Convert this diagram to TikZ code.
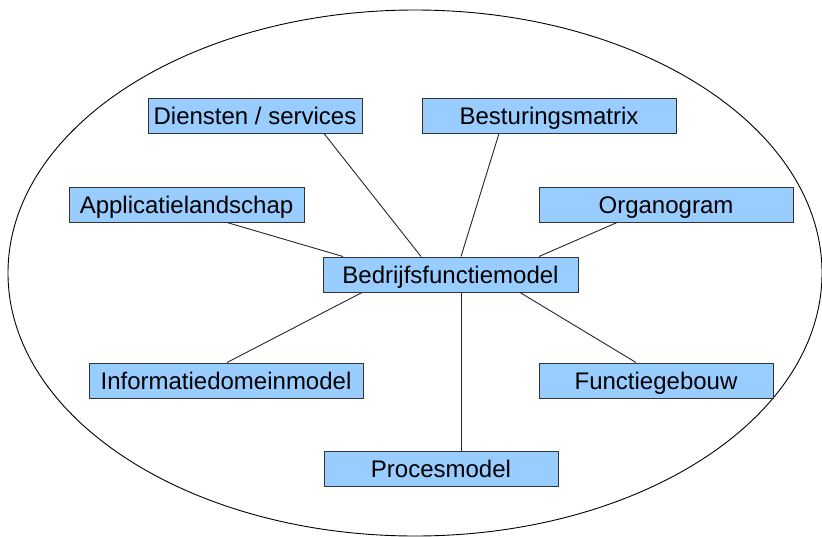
\documentclass[tikz,border=0pt]{standalone}
\usepackage{fontspec}
\setmainfont{Liberation Sans}
\definecolor{boxfill}{HTML}{99CCFF}
\definecolor{boxline}{HTML}{333333}
\begin{document}
\begin{tikzpicture}[x=1pt,y=-1pt,
  model/.style={draw=boxline, line width=1pt, fill=boxfill, inner sep=0pt,
    minimum height=35pt, text height=17.2pt, text depth=0pt,
    font=\fontsize{24}{28}\selectfont, text=black},
  link/.style={draw=black!85, line width=0.9pt}]
  \useasboundingbox (0,0) rectangle (822,536);

  % enclosing ellipse
  \draw[line width=0.9pt] (415,273) ellipse [x radius=407, y radius=263];

  % models
  \node[model, minimum width=255pt] (bfm)  at (450.5,274.5) {Bedrijfsfunctiemodel};
  \node[model, minimum width=214pt] (dien) at (255,115.5)   {Diensten / services};
  \node[model, minimum width=254pt] (best) at (549,115.5)   {Besturingsmatrix};
  \node[model, minimum width=235pt] (appl) at (186.5,204.5) {Applicatielandschap};
  \node[model, minimum width=254pt] (orga) at (666,204.5)   {Organogram};
  \node[model, minimum width=274pt] (info) at (226,380.5)   {Informatiedomeinmodel};
  \node[model, minimum width=234pt] (func) at (656,380.5)   {Functiegebouw};
  \node[model, minimum width=234pt] (proc) at (441,468.5)   {Procesmodel};

  % connections to the central model
  \draw[link] ([xshift=69pt]dien.south)    -- ([xshift=-29.5pt]bfm.north);
  \draw[link] ([xshift=-50pt]best.south)   -- ([xshift=10.5pt]bfm.north);
  \draw[link] ([xshift=40.5pt]appl.south)  -- ([xshift=-107.5pt]bfm.north);
  \draw[link] ([xshift=-49pt]orga.south)   -- ([xshift=88.5pt]bfm.north);
  \draw[link] ([xshift=1pt]info.north)     -- ([xshift=-88.5pt]bfm.south);
  \draw[link] ([xshift=-20pt]func.north)   -- ([xshift=69.5pt]bfm.south);
  \draw[link] ([xshift=20pt]proc.north)    -- ([xshift=10.5pt]bfm.south);
\end{tikzpicture}
\end{document}
